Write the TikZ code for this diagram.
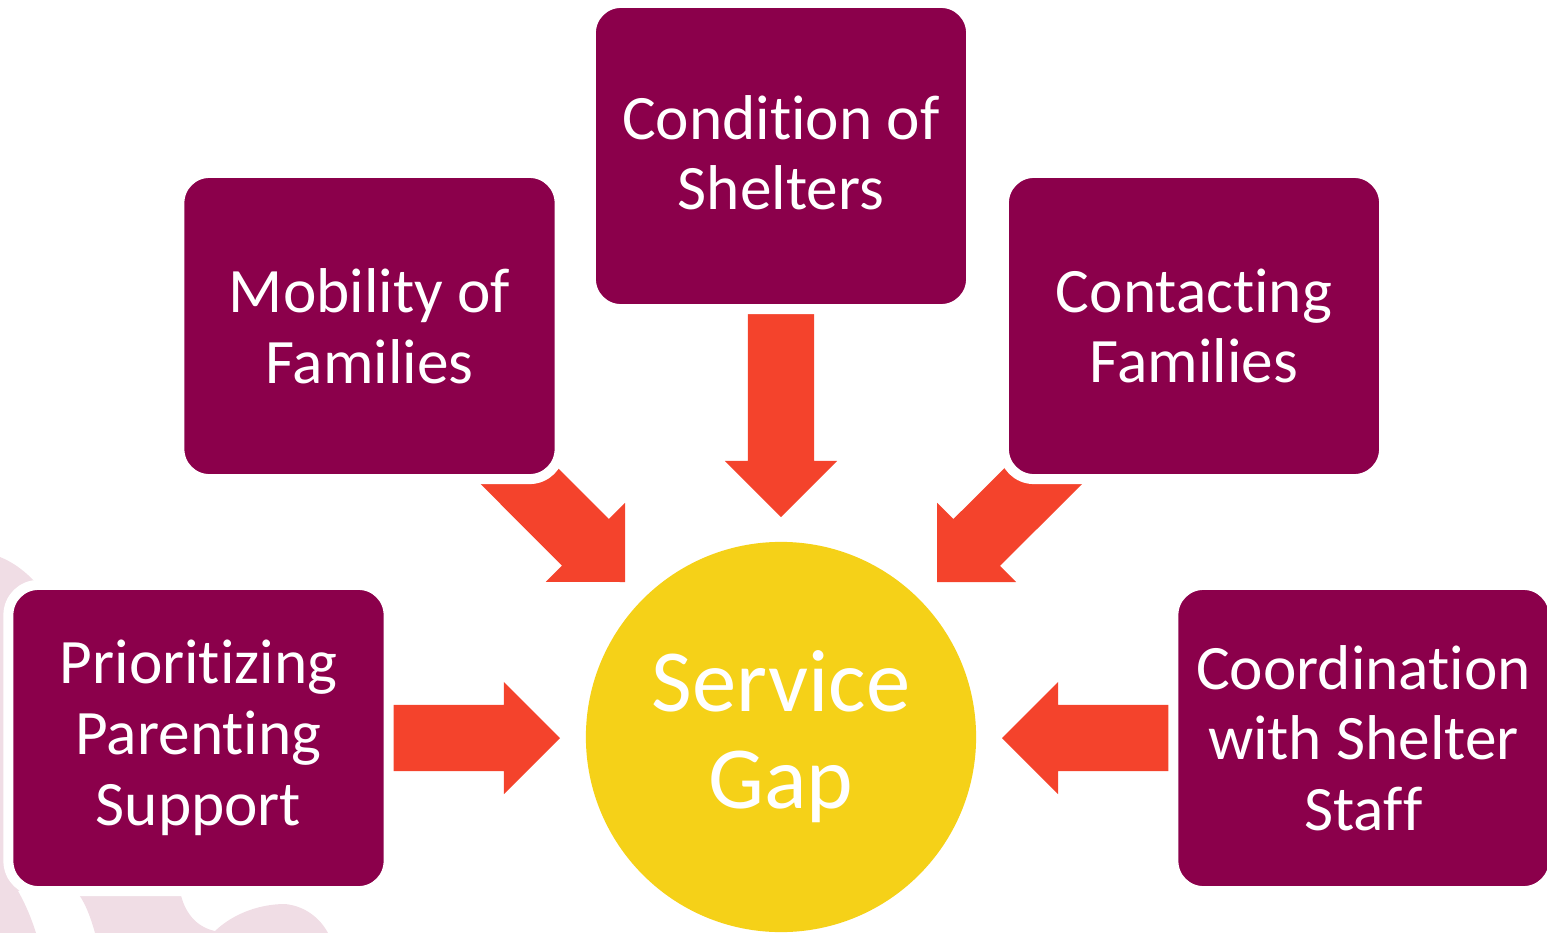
\documentclass[tikz,border=0pt]{standalone}
\usepackage{fontspec}
\setmainfont{Carlito}[Ligatures={NoCommon,NoContextual,NoRequired}]
\usetikzlibrary{calc}
\definecolor{boxc}{HTML}{8B004B}
\definecolor{arrc}{HTML}{F4432C}
\definecolor{gapc}{HTML}{F5D118}
\definecolor{palec}{HTML}{F0DDE5}
\pgfdeclarelayer{bg}
\pgfsetlayers{bg,main}
\tikzset{
  gapbox/.style={rectangle, rounded corners=0.3cm, fill=boxc, draw=white,
    line width=0.1cm, minimum width=3.8cm, minimum height=3.06cm,
    inner sep=0pt, align=center, text=white,
    font=\fontsize{18pt}{20.1pt}\selectfont},
  hub/.style={circle, fill=gapc, minimum size=3.9cm, inner sep=0pt,
    align=center, text=white, font=\fontsize{25.2pt}{27.6pt}\selectfont},
  blockarrow/.style={fill=arrc},
  deco/.style={fill=palec}
}
\newcommand\fatarrow[2]{%
  \coordinate (hb) at ($(#2)!0.56cm!(#1)$);
  \fill[blockarrow]
    ($(#1)!0.33cm!90:(#2)$) -- ($(hb)!0.33cm!90:(#2)$) --
    ($(hb)!0.56cm!90:(#2)$) -- (#2) --
    ($(hb)!0.56cm!-90:(#2)$) -- ($(hb)!0.33cm!-90:(#2)$) --
    ($(#1)!0.33cm!-90:(#2)$) -- cycle;
}
\begin{document}
\begin{tikzpicture}[x=0.01cm, y=-0.01cm]
\useasboundingbox (0,0) rectangle (1547,933);

% central hub
\node[hub] (gap) at (781,737) {Service\\Gap};

% boxes
\node[gapbox] (top) at (781,156)    {Condition of\\Shelters\rule[-0.07cm]{0pt}{0pt}};
\node[gapbox] (mob) at (369.5,326)  {Mobility of\\Families};
\node[gapbox] (con) at (1194,326)   {Contacting\\Families};
\node[gapbox] (pri) at (198.5,738)  {Prioritizing\\Parenting\\Support};
\node[gapbox] (coo) at (1363.5,738) {Coordination\\with Shelter\\Staf\kern0ptf};

% arrow tips
\coordinate (tipN)  at (781,517);
\coordinate (tipNW) at (625,582);
\coordinate (tipNE) at (937,582);
\coordinate (tipW)  at (560,738);
\coordinate (tipE)  at (1002,738);

\begin{pgfonlayer}{bg}
  % faint background decoration
  \fill[deco] (0,557) .. controls (20,565) and (38,582) .. (48,600)
    -- (48,880) -- (18,891) .. controls (26,905) and (32,920) .. (36,933)
    -- (0,933) -- cycle;
  \fill[deco] (76,891) -- (180,891) .. controls (184,912) and (196,927) .. (215,931)
    .. controls (235,912) and (262,904) .. (285,904)
    .. controls (305,906) and (320,918) .. (328,933)
    -- (95,933) .. controls (90,915) and (84,900) .. (76,891) -- cycle;
  % block arrows
  \fatarrow{top.center}{tipN}
  \fatarrow{mob.center}{tipNW}
  \fatarrow{con.center}{tipNE}
  \fatarrow{pri.center}{tipW}
  \fatarrow{coo.center}{tipE}
\end{pgfonlayer}
\end{tikzpicture}
\end{document}
